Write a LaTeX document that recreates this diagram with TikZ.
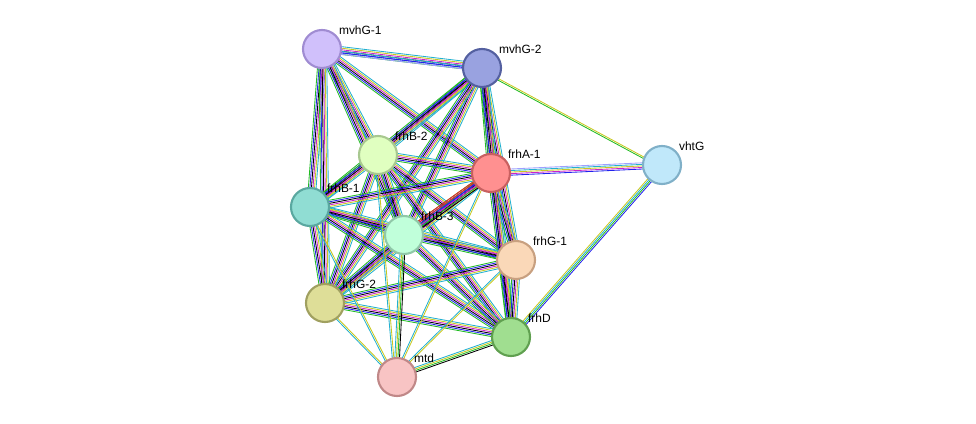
\documentclass[tikz,border=0pt]{standalone}
\usepackage{fontspec}
\setmainfont{Liberation Sans}
\usetikzlibrary{calc,backgrounds}
\definecolor{eg}{HTML}{22BB22}
\definecolor{eb}{HTML}{2222EE}
\definecolor{em}{HTML}{CC22CC}
\definecolor{ey}{HTML}{C8C820}
\definecolor{ec}{HTML}{22B0D0}
\definecolor{er}{HTML}{EE2222}
\definecolor{el}{HTML}{9F9FFF}
% bundle of parallel lines between two nodes
\newcommand\bundle[3]{%
  \foreach \c [count=\i] in {#3}
    \draw[\c,line width=0.6pt]
      ($(#1)!{\i*1.1pt-3.3pt}!90:(#2)$) -- ($(#2)!{\i*1.1pt-3.3pt}!-90:(#1)$);}
\tikzset{
  prot/.style={circle,draw,line width=1.5pt,minimum size=0.95cm,inner sep=0pt},
  lbl/.style={label={[font=\fontsize{8.5}{10}\selectfont,anchor=south west,inner sep=1pt]40:#1}}
}
\begin{document}
\begin{tikzpicture}[x=0.025cm,y=-0.025cm]
  \useasboundingbox (0,0) rectangle (976,423);
  \node[prot,fill={rgb,255:red,208;green,192;blue,251},draw={rgb,255:red,160;green,140;blue,210},lbl=mvhG-1] (mvhG1) at (322,49) {};
  \node[prot,fill={rgb,255:red,153;green,162;blue,224},draw={rgb,255:red,84;green,96;blue,160},lbl=mvhG-2] (mvhG2) at (482,68) {};
  \node[prot,fill={rgb,255:red,224;green,255;blue,192},draw={rgb,255:red,168;green,200;blue,144},lbl=frhB-2] (frhB2) at (378,155) {};
  \node[prot,fill={rgb,255:red,255;green,144;blue,144},draw={rgb,255:red,200;green,96;blue,96},lbl=frhA-1] (frhA1) at (491,173) {};
  \node[prot,fill={rgb,255:red,192;green,232;blue,250},draw={rgb,255:red,128;green,176;blue,200},lbl=vhtG] (vhtG) at (662,165) {};
  \node[prot,fill={rgb,255:red,144;green,221;blue,211},draw={rgb,255:red,90;green,168;blue,160},lbl=frhB-1] (frhB1) at (310,207) {};
  \node[prot,fill={rgb,255:red,192;green,255;blue,218},draw={rgb,255:red,144;green,200;blue,168},lbl=frhB-3] (frhB3) at (404,235) {};
  \node[prot,fill={rgb,255:red,250;green,216;blue,184},draw={rgb,255:red,200;green,160;blue,128},lbl=frhG-1] (frhG1) at (516,260) {};
  \node[prot,fill={rgb,255:red,222;green,222;blue,152},draw={rgb,255:red,160;green,160;blue,96},lbl=frhG-2] (frhG2) at (325,303) {};
  \node[prot,fill={rgb,255:red,160;green,222;blue,144},draw={rgb,255:red,96;green,160;blue,80},lbl=frhD] (frhD) at (511,337) {};
  \node[prot,fill={rgb,255:red,248;green,196;blue,196},draw={rgb,255:red,192;green,136;blue,136},lbl=mtd] (mtd) at (397,377) {};
  \begin{scope}[on background layer]
    % core complex
    \foreach \a/\b in {mvhG1/mvhG2,mvhG1/frhB2,mvhG1/frhA1,mvhG1/frhB1,mvhG1/frhB3,mvhG1/frhG2,
      mvhG2/frhB2,mvhG2/frhA1,mvhG2/frhB1,mvhG2/frhB3,mvhG2/frhG1,mvhG2/frhG2,mvhG2/frhD,
      frhB2/frhA1,frhB2/frhB1,frhB2/frhB3,frhB2/frhG1,frhB2/frhG2,frhB2/frhD,
      frhA1/frhB1,frhA1/frhB3,frhA1/frhG1,frhA1/frhG2,frhA1/frhD,
      frhB1/frhB3,frhB1/frhG1,frhB1/frhG2,frhB1/frhD,
      frhB3/frhG1,frhB3/frhG2,frhB3/frhD,frhG1/frhG2,frhG1/frhD,frhG2/frhD}
      \bundle{\a}{\b}{eg,eb,black,em,ey,ec};
    \bundle{frhA1}{frhB3}{er,er,eb,em,eg,black};
    % outer links
    \bundle{mvhG1}{mvhG2}{el,eb,ec};
    \bundle{mvhG2}{vhtG}{eg,ey};
    \bundle{frhA1}{vhtG}{eb,em,ey,ec,el};
    \bundle{frhD}{vhtG}{eb,eg,ec,ey};
    \foreach \a in {frhB3,frhD}
      \bundle{\a}{mtd}{ec,ey,eg,black};
    \foreach \a in {frhG2,frhB2,frhB1,frhA1,frhG1}
      \bundle{\a}{mtd}{ec,ey};
  \end{scope}
\end{tikzpicture}
\end{document}
